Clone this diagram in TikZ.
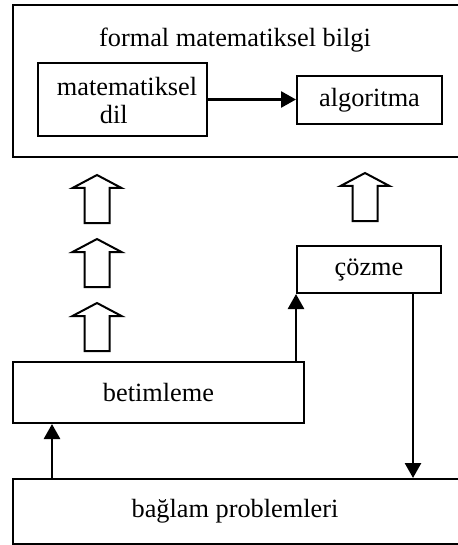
\documentclass[tikz,border=0pt]{standalone}
\usepackage{fontspec}
\setmainfont{Liberation Serif}
\usetikzlibrary{arrows.meta}
\tikzset{
  box/.style={draw, line width=1pt, inner sep=0pt, align=center},
  conn/.style={line width=1.35pt, -{Triangle[length=7.5pt,width=8pt]}},
  blockup/.pic={\draw[line width=1pt, line join=miter] (0,0) -- (24.5,13) -- (12.5,13) -- (12.5,48) -- (-12.5,48) -- (-12.5,13) -- (-24.5,13) -- cycle;}
}
\begin{document}
\begin{tikzpicture}[x=0.5pt, y=-0.5pt, every node/.style={font=\fontsize{13.15}{14}\selectfont}]
\clip (0,0) rectangle (458,545);
% top container
\node[box, minimum width=226pt, minimum height=76pt] (top) at (239,81) {};
\node (title) at (235,40) {formal matematiksel bilgi};
\node[box, minimum width=84.5pt, minimum height=36.5pt] (matdil) at (122.5,99.5) {\begin{tabular}{@{}l@{}}\rule{0pt}{13.8pt}\hspace*{4.5pt}matematiksel\\\hspace*{26pt}dil\end{tabular}};
\node[box, minimum width=72.5pt, minimum height=24pt] (algo) at (369.5,100) {algoritma};
% middle and bottom boxes
\node[box, minimum width=72pt, minimum height=23.5pt] (cozme) at (369,269.5) {çözme};
\node[box, minimum width=145.5pt, minimum height=30.5pt] (betim) at (158.5,392.5) {betimleme};
\node[box, minimum width=226pt, minimum height=32.5pt] (baglam) at (239,511.5) {bağlam problemleri\hspace*{4pt}};
% block arrows
\pic at (97,175) {blockup};
\pic at (97,239) {blockup};
\pic at (97,303) {blockup};
\pic at (365,173) {blockup};
% connectors
\draw[conn] (matdil.east) -- (matdil.east -| algo.west);
\draw[conn] (betim.north -| cozme.south west) -- (cozme.south west);
\coordinate (dn) at (413,293);
\draw[conn] (dn) -- (dn |- baglam.north);
\coordinate (up) at (52,479);
\draw[conn] (up) -- (up |- betim.south);
\end{tikzpicture}
\end{document}
